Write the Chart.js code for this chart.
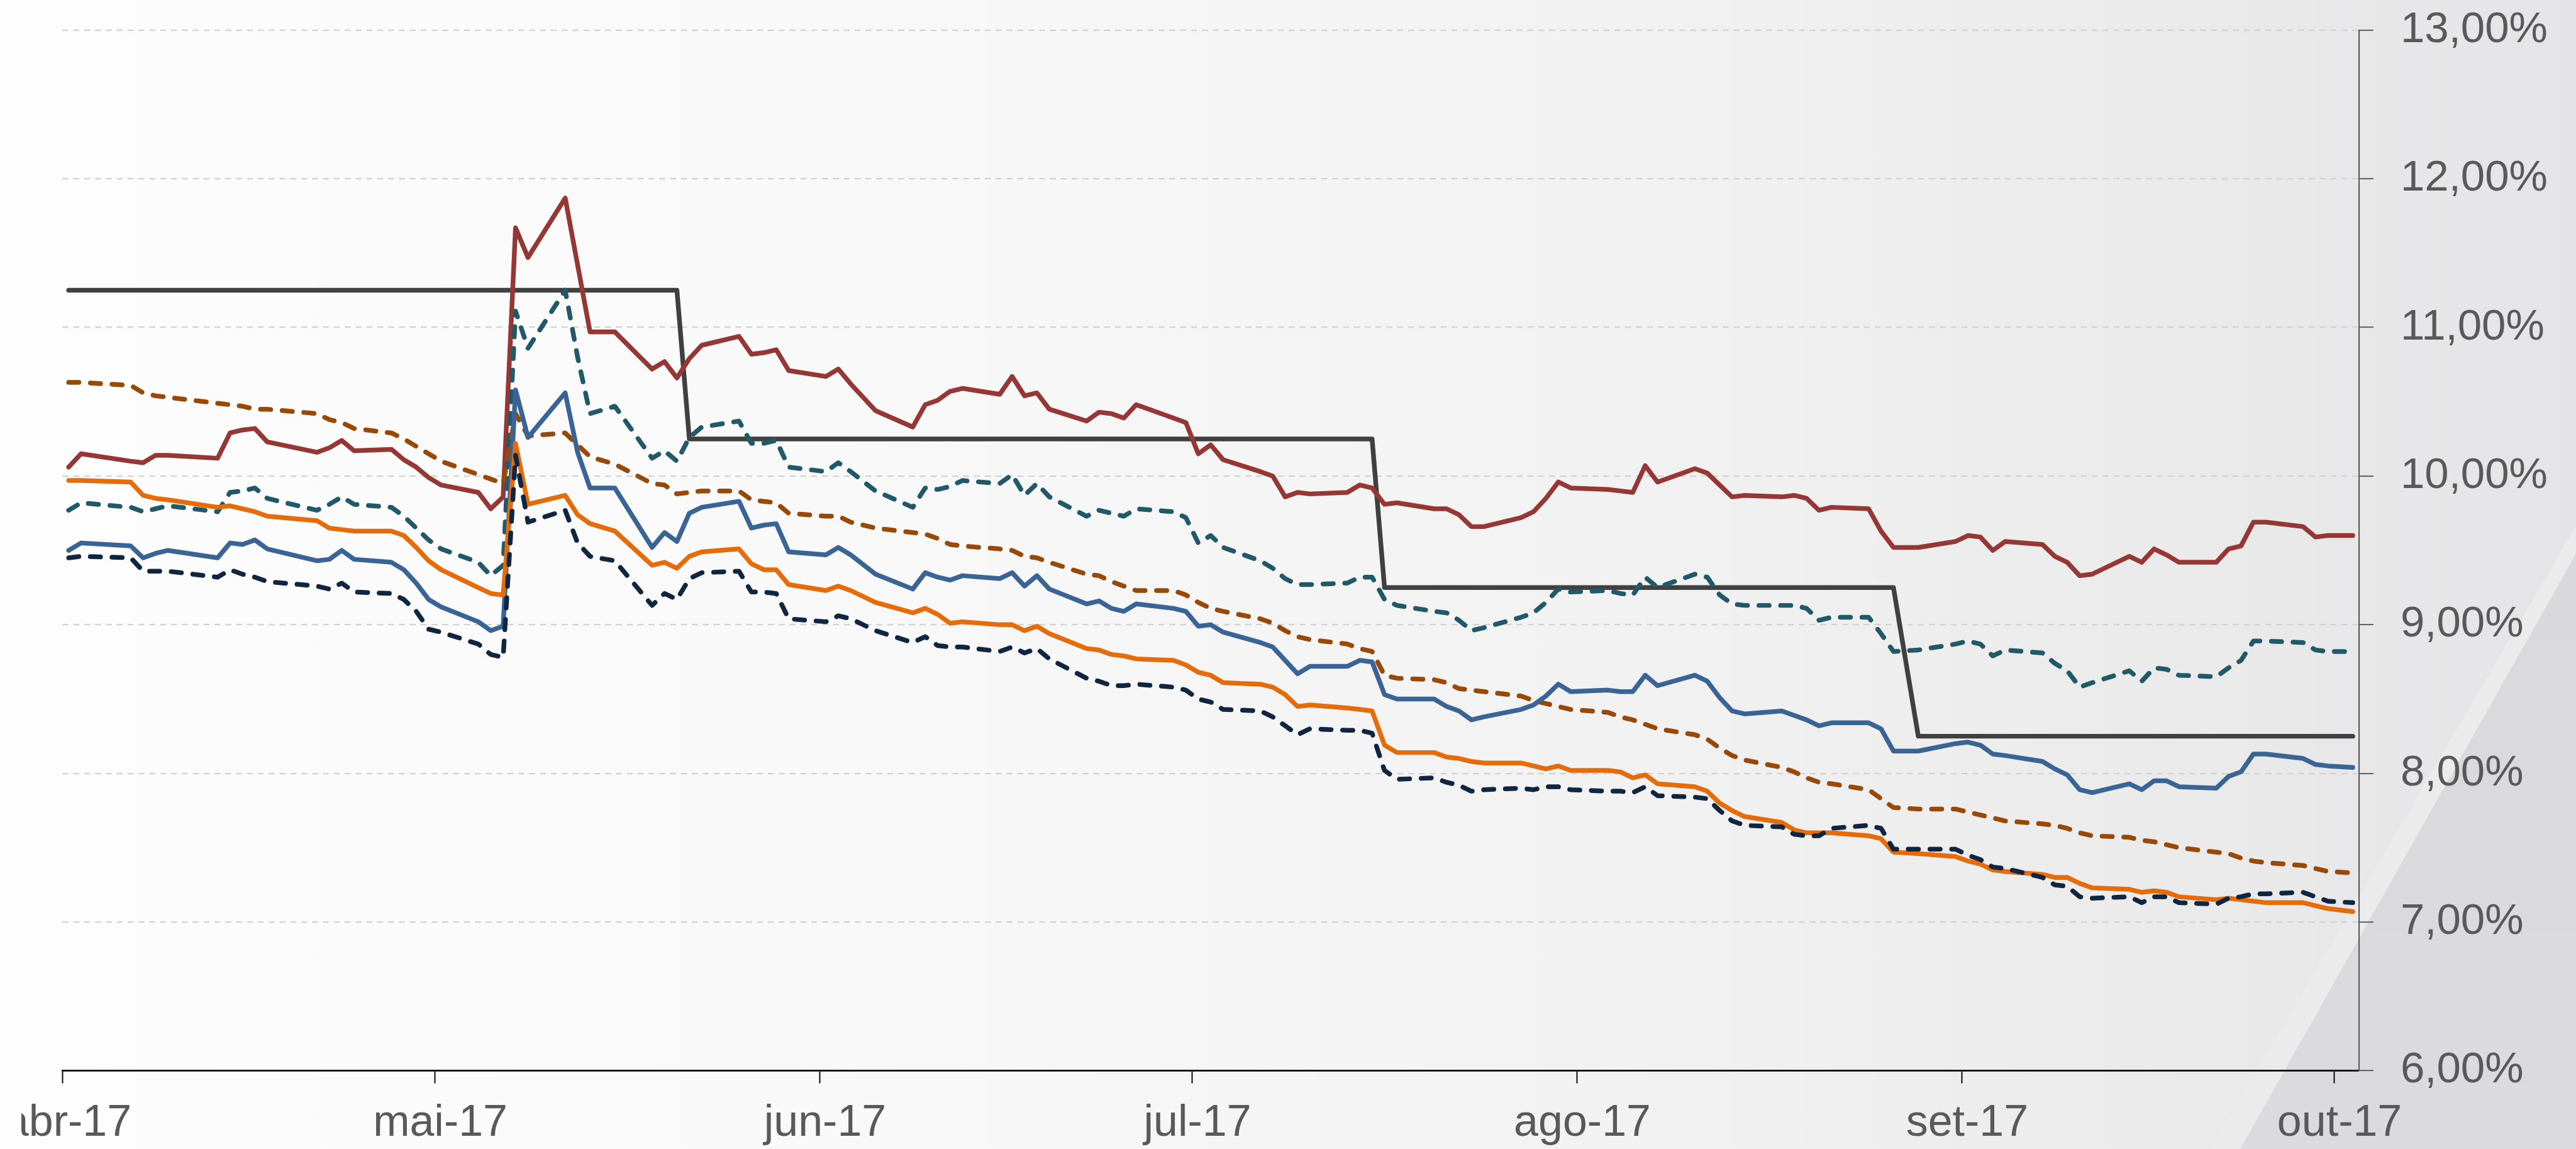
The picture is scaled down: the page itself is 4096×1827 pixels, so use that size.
<!DOCTYPE html>
<html>
<head>
<meta charset="utf-8">
<script src="https://cdn.jsdelivr.net/npm/chart.js@4.4.1/dist/chart.umd.min.js"></script>
<style>
  html, body { margin:0; padding:0; }
  body { width:4096px; height:1827px; overflow:hidden; position:relative;
    background: linear-gradient(to right, #fdfdfd 0%, #f8f8f8 35%, #f1f1f1 65%, #e9e9ea 88%, #e4e4e6 100%); }
  .deco { position:absolute; left:0; top:0; width:4096px; height:1827px; }
  #tri { background: linear-gradient(to bottom, #d7d7d9, #dbdbdd); clip-path: polygon(4096px 880px, 4096px 1827px, 3562px 1827px); }
  #stripe { background:#ebebec; clip-path: polygon(4096px 836px, 4096px 880px, 3562px 1827px, 3516px 1827px); }
  #clip { position:absolute; left:34px; top:0; width:4062px; height:1827px; overflow:hidden; }
  #c { position:absolute; left:-34px; top:0; }
</style>
</head>
<body>
<div class="deco" id="tri"></div>
<div class="deco" id="stripe"></div>
<div id="clip"><canvas id="c" width="4096" height="1827"></canvas></div>
<script>
// ---------------- DATA ----------------
const dates = [
  '2017-04-12','2017-04-13','2017-04-17','2017-04-18','2017-04-19','2017-04-20','2017-04-24','2017-04-25','2017-04-26','2017-04-27','2017-04-28',
  '2017-05-02','2017-05-03','2017-05-04','2017-05-05','2017-05-08','2017-05-09','2017-05-10','2017-05-11','2017-05-12','2017-05-15','2017-05-16','2017-05-17','2017-05-18','2017-05-19','2017-05-22','2017-05-23','2017-05-24','2017-05-26','2017-05-29','2017-05-30','2017-05-31',
  '2017-06-01','2017-06-02','2017-06-05','2017-06-06','2017-06-07','2017-06-08','2017-06-09','2017-06-12','2017-06-13','2017-06-14','2017-06-16','2017-06-19','2017-06-20','2017-06-21','2017-06-22','2017-06-23','2017-06-26','2017-06-27','2017-06-28','2017-06-29','2017-06-30',
  '2017-07-03','2017-07-04','2017-07-05','2017-07-06','2017-07-07','2017-07-10','2017-07-11','2017-07-12','2017-07-13','2017-07-14','2017-07-17','2017-07-18','2017-07-19','2017-07-20','2017-07-21','2017-07-24','2017-07-25','2017-07-26','2017-07-27','2017-07-28','2017-07-31',
  '2017-08-01','2017-08-02','2017-08-03','2017-08-04','2017-08-07','2017-08-08','2017-08-09','2017-08-10','2017-08-11','2017-08-14','2017-08-15','2017-08-16','2017-08-17','2017-08-18','2017-08-21','2017-08-22','2017-08-23','2017-08-24','2017-08-25','2017-08-28','2017-08-29','2017-08-30','2017-08-31',
  '2017-09-01','2017-09-04','2017-09-05','2017-09-06','2017-09-08','2017-09-11','2017-09-12','2017-09-13','2017-09-14','2017-09-15','2017-09-18','2017-09-19','2017-09-20','2017-09-21','2017-09-22','2017-09-25','2017-09-26','2017-09-27','2017-09-28','2017-09-29',
  '2017-10-02','2017-10-03','2017-10-04','2017-10-05','2017-10-06','2017-10-09','2017-10-10','2017-10-11','2017-10-13'
];

const serieSelic = [
  11.25,11.25,11.25,11.25,11.25,11.25,11.25,11.25,11.25,11.25,11.25,
  11.25,11.25,11.25,11.25,11.25,11.25,11.25,11.25,11.25,11.25,11.25,11.25,11.25,11.25,11.25,11.25,11.25,11.25,11.25,11.25,11.25,
  10.25,10.25,10.25,10.25,10.25,10.25,10.25,10.25,10.25,10.25,10.25,10.25,10.25,10.25,10.25,10.25,10.25,10.25,10.25,10.25,10.25,
  10.25,10.25,10.25,10.25,10.25,10.25,10.25,10.25,10.25,10.25,10.25,10.25,10.25,10.25,10.25,10.25,10.25,10.25,9.25,9.25,9.25,
  9.25,9.25,9.25,9.25,9.25,9.25,9.25,9.25,9.25,9.25,9.25,9.25,9.25,9.25,9.25,9.25,9.25,9.25,9.25,9.25,9.25,9.25,9.25,
  9.25,9.25,9.25,9.25,8.25,8.25,8.25,8.25,8.25,8.25,8.25,8.25,8.25,8.25,8.25,8.25,8.25,8.25,8.25,8.25,
  8.25,8.25,8.25,8.25,8.25,8.25,8.25,8.25,8.25
];
const serieVermelha = [
  10.06,10.15,10.10,10.09,10.14,10.14,10.12,10.29,10.31,10.32,10.23,
  10.16,10.19,10.24,10.17,10.18,10.11,10.06,9.99,9.94,9.89,9.78,9.86,11.67,11.47,11.87,11.42,10.97,10.97,10.72,10.77,10.66,
  10.79,10.88,10.94,10.82,10.83,10.85,10.71,10.67,10.72,10.62,10.44,10.33,10.48,10.51,10.57,10.59,10.55,10.67,10.54,10.56,10.45,
  10.37,10.43,10.42,10.39,10.48,10.39,10.36,10.15,10.21,10.11,10.03,10.00,9.86,9.89,9.88,9.89,9.94,9.92,9.81,9.82,9.78,
  9.78,9.74,9.66,9.66,9.72,9.76,9.85,9.96,9.92,9.91,9.90,9.89,10.07,9.96,10.05,10.02,9.94,9.86,9.87,9.86,9.87,9.85,9.77,
  9.79,9.78,9.63,9.52,9.52,9.56,9.60,9.59,9.50,9.56,9.54,9.46,9.42,9.33,9.34,9.46,9.42,9.51,9.47,9.42,
  9.42,9.51,9.53,9.69,9.69,9.66,9.59,9.60,9.60
];
const serieTeal = [
  9.77,9.82,9.79,9.76,9.78,9.80,9.76,9.89,9.90,9.92,9.85,
  9.77,9.81,9.86,9.81,9.79,9.73,9.65,9.57,9.51,9.42,9.33,9.40,11.11,10.86,11.25,10.80,10.42,10.47,10.12,10.17,10.10,
  10.26,10.33,10.37,10.22,10.22,10.24,10.06,10.03,10.09,10.03,9.90,9.79,9.92,9.91,9.93,9.97,9.95,10.01,9.87,9.95,9.86,
  9.73,9.77,9.75,9.73,9.78,9.76,9.72,9.55,9.60,9.52,9.43,9.38,9.31,9.27,9.27,9.28,9.32,9.32,9.17,9.13,9.09,
  9.08,9.03,8.96,8.98,9.05,9.08,9.15,9.24,9.22,9.23,9.21,9.20,9.32,9.25,9.34,9.32,9.20,9.14,9.13,9.13,9.13,9.11,9.03,
  9.05,9.05,8.94,8.82,8.83,8.87,8.89,8.87,8.79,8.83,8.81,8.74,8.69,8.58,8.61,8.69,8.62,8.71,8.70,8.66,
  8.65,8.71,8.76,8.89,8.89,8.88,8.83,8.82,8.82
];
const serieMarrom = [
  10.63,10.63,10.61,10.56,10.54,10.53,10.49,10.48,10.47,10.45,10.45,
  10.42,10.38,10.36,10.32,10.29,10.25,10.20,10.15,10.10,10.01,9.98,9.95,10.42,10.27,10.29,10.21,10.13,10.08,9.95,9.94,9.88,
  9.89,9.90,9.90,9.84,9.83,9.82,9.75,9.73,9.73,9.69,9.65,9.62,9.61,9.58,9.54,9.53,9.51,9.50,9.46,9.45,9.42,
  9.34,9.33,9.29,9.26,9.23,9.23,9.20,9.15,9.11,9.09,9.04,9.01,8.96,8.92,8.90,8.87,8.84,8.82,8.66,8.64,8.63,
  8.61,8.57,8.56,8.55,8.52,8.49,8.47,8.45,8.43,8.41,8.38,8.36,8.33,8.30,8.26,8.23,8.17,8.12,8.09,8.04,8.01,7.97,7.94,
  7.93,7.89,7.83,7.77,7.76,7.76,7.74,7.72,7.70,7.68,7.66,7.65,7.63,7.60,7.58,7.57,7.55,7.54,7.52,7.50,
  7.47,7.46,7.43,7.41,7.40,7.38,7.36,7.34,7.33
];
const serieLaranja = [
  9.97,9.97,9.96,9.87,9.85,9.84,9.79,9.80,9.78,9.76,9.73,
  9.70,9.65,9.64,9.63,9.63,9.60,9.52,9.43,9.37,9.25,9.21,9.20,10.22,9.81,9.87,9.74,9.68,9.63,9.40,9.42,9.38,
  9.46,9.49,9.51,9.41,9.37,9.37,9.27,9.23,9.26,9.23,9.15,9.08,9.11,9.07,9.01,9.02,9.00,9.00,8.96,8.99,8.94,
  8.84,8.83,8.80,8.79,8.77,8.76,8.73,8.68,8.66,8.61,8.60,8.58,8.53,8.45,8.46,8.44,8.43,8.42,8.19,8.14,8.14,
  8.11,8.10,8.08,8.07,8.07,8.05,8.03,8.05,8.02,8.02,8.01,7.97,7.99,7.93,7.91,7.88,7.80,7.75,7.71,7.67,7.62,7.60,7.60,
  7.60,7.58,7.56,7.47,7.46,7.44,7.41,7.39,7.35,7.34,7.32,7.30,7.30,7.26,7.23,7.22,7.20,7.21,7.20,7.17,
  7.15,7.16,7.15,7.14,7.13,7.13,7.11,7.09,7.07
];
const serieAzul = [
  9.50,9.55,9.53,9.45,9.48,9.50,9.45,9.55,9.54,9.57,9.51,
  9.43,9.44,9.50,9.44,9.42,9.37,9.28,9.17,9.12,9.02,8.96,8.99,10.58,10.26,10.56,10.16,9.92,9.92,9.52,9.62,9.56,
  9.75,9.79,9.83,9.65,9.67,9.68,9.49,9.47,9.52,9.47,9.34,9.24,9.35,9.32,9.30,9.33,9.31,9.35,9.26,9.33,9.24,
  9.14,9.16,9.11,9.09,9.14,9.11,9.09,8.99,9.00,8.95,8.88,8.85,8.76,8.67,8.72,8.72,8.76,8.75,8.53,8.50,8.50,
  8.45,8.42,8.36,8.38,8.43,8.46,8.52,8.60,8.55,8.56,8.55,8.55,8.66,8.59,8.66,8.62,8.51,8.42,8.40,8.42,8.39,8.36,8.32,
  8.34,8.34,8.30,8.15,8.15,8.20,8.21,8.19,8.13,8.12,8.08,8.03,7.99,7.89,7.87,7.93,7.89,7.95,7.95,7.91,
  7.90,7.98,8.01,8.13,8.13,8.10,8.06,8.05,8.04
];
const serieMarinho = [
  9.45,9.46,9.45,9.36,9.36,9.36,9.32,9.37,9.34,9.32,9.29,
  9.26,9.24,9.28,9.22,9.21,9.17,9.09,8.97,8.95,8.87,8.80,8.78,10.14,9.69,9.77,9.55,9.46,9.43,9.13,9.21,9.17,
  9.31,9.35,9.36,9.22,9.22,9.21,9.04,9.02,9.06,9.04,8.96,8.88,8.92,8.86,8.85,8.85,8.82,8.85,8.81,8.84,8.77,
  8.64,8.62,8.59,8.59,8.60,8.58,8.56,8.50,8.48,8.43,8.42,8.38,8.32,8.26,8.30,8.29,8.29,8.27,8.02,7.96,7.97,
  7.94,7.92,7.88,7.89,7.90,7.89,7.91,7.91,7.89,7.88,7.88,7.87,7.91,7.85,7.84,7.83,7.75,7.68,7.65,7.64,7.59,7.58,7.58,
  7.63,7.65,7.63,7.49,7.49,7.49,7.45,7.42,7.37,7.36,7.30,7.25,7.24,7.17,7.16,7.17,7.13,7.17,7.17,7.13,
  7.12,7.16,7.17,7.19,7.19,7.20,7.17,7.14,7.13
];

const tickDates  = ['2017-04-12','2017-05-12','2017-06-12','2017-07-12','2017-08-12','2017-09-12','2017-10-12'];
const tickLabels = ['abr-17','mai-17','jun-17','jul-17','ago-17','set-17','out-17'];
const axisStart = '2017-04-12';
const axisEnd   = '2017-10-14';
const yMin = 6, yMax = 13, yStep = 1;

// ---------------- CHART ----------------
const S = 4096 / 4273;
const DAY0 = Date.UTC(2017, 3, 12);
function dayOf(s) { const p = s.split('-').map(Number); return (Date.UTC(p[0], p[1]-1, p[2]) - DAY0) / 86400000; }
const xs = dates.map(d => dayOf(d) + 0.5);   // points sit in the middle of their day slot
const pts = arr => arr.map((v, i) => ({ x: xs[i], y: v }));

const FONT = '"Liberation Sans", Arial, Helvetica, sans-serif';
const LW = 7.8 * S;
const solid = (label, color, data) => ({ label, data: pts(data), borderColor: color, backgroundColor: color,
  borderWidth: LW, pointRadius: 0, pointHoverRadius: 0, tension: 0, fill: false,
  borderJoinStyle: 'round', borderCapStyle: 'round' });
const dashed = (label, color, data) => Object.assign(solid(label, color, data), { borderDash: [17*S, 19*S] });

new Chart(document.getElementById('c'), {
  type: 'line',
  data: {
    datasets: [
      dashed('Série 7', '#10253f', serieMarinho),
      solid ('Série 6', '#e46c0a', serieLaranja),
      solid ('Série 5', '#3a6494', serieAzul),
      dashed('Série 4', '#984807', serieMarrom),
      dashed('Série 3', '#215968', serieTeal),
      solid ('Série 2', '#953735', serieVermelha),
      solid ('Selic',   '#404040', serieSelic)
    ]
  },
  options: {
    responsive: false,
    animation: false,
    events: [],
    layout: { padding: { left: 103.6*S, top: 50*S, right: 0, bottom: 0 } },
    plugins: { legend: { display: false }, tooltip: { enabled: false }, title: { display: false } },
    scales: {
      x: {
        type: 'linear',
        min: dayOf(axisStart), max: dayOf(axisEnd),
        afterBuildTicks: sc => { sc.ticks = tickDates.map(d => ({ value: dayOf(d) })); },
        afterFit: sc => { sc.height = 1827 - 1776*S; sc.paddingLeft = 0; sc.paddingRight = 0; },
        ticks: { autoSkip: false, maxRotation: 0, minRotation: 0, padding: 22, labelOffset: 9*S,
          color: '#595959', font: { family: FONT, size: 73*S },
          callback: (v, i) => tickLabels[i] },
        grid: { display: true, drawOnChartArea: false, drawTicks: true, tickLength: 21*S, tickColor: '#000000', tickWidth: 2*S },
        border: { display: true, color: '#000000', width: 2.8*S }
      },
      y: {
        position: 'right',
        min: yMin, max: yMax,
        afterFit: sc => { sc.width = 4096 - 3913*S; sc.paddingTop = 0; sc.paddingBottom = 0; },
        ticks: { stepSize: yStep, padding: 43, color: '#595959', font: { family: FONT, size: 72*S },
          callback: v => v.toFixed(2).replace('.', ',') + '%' },
        grid: { drawOnChartArea: true, drawTicks: true, tickLength: 24*S, tickColor: '#595959', tickWidth: 2*S,
          lineWidth: 2.4*S,
          color: c => (c.tick && c.tick.value === yMin) ? 'rgba(0,0,0,0)' : '#d2d2d2' },
        border: { display: true, color: '#595959', width: 2.2*S, dash: [10*S, 8*S] }
      }
    }
  }
});
</script>
</body>
</html>
